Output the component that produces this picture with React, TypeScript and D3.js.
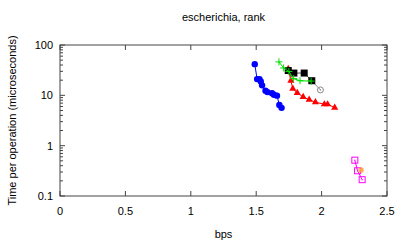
import React from "react";
import * as d3 from "d3";

const W = 407;
const H = 244;
const margin = { left: 60, right: 20, top: 45, bottom: 48 };

const xTicks = [0, 0.5, 1, 1.5, 2, 2.5];
const xTickLabels = ["0", "0.5", "1", "1.5", "2", "2.5"];
const yTicks = [0.1, 1, 10, 100];
const yTickLabels = ["0.1", "1", "10", "100"];

// [bps, time]
const blue = [
  [1.489, 41.6], [1.507, 21], [1.525, 21], [1.535, 18.9], [1.545, 15.8],
  [1.571, 12.4], [1.586, 11.6], [1.621, 11.0], [1.636, 10.3], [1.659, 9.86],
  [1.677, 6.45], [1.694, 5.64],
];
const red = [
  [1.745, 33.6], [1.765, 19.5], [1.78, 13.6], [1.814, 11.2], [1.859, 9.3],
  [1.905, 8.2], [1.953, 7.3], [2.021, 6.65], [2.046, 6.65], [2.1, 5.7],
];
const green = [
  [1.674, 46.2], [1.71, 35], [1.75, 29.7], [1.786, 21.5], [1.835, 19.5], [1.92, 19.2],
];
const black = [
  [1.745, 31.1], [1.788, 27.7], [1.867, 27.7], [1.925, 19.5],
];
const gray = [
  [1.925, 19.5], [1.991, 12.8],
];
const magenta = [
  [2.254, 0.515], [2.275, 0.317], [2.31, 0.211],
];
const orange = [
  [2.302, 0.327],
];

const FONT = "'Liberation Sans', Arial, sans-serif";
const AXIS = "#444";

export default function App() {
  const iw = W - margin.left - margin.right;
  const ih = H - margin.top - margin.bottom;
  const x = d3.scaleLinear().domain([0, 2.5]).range([0, iw]);
  const y = d3.scaleLog().domain([0.1, 100]).range([ih, 0]);
  const line = d3.line<number[]>().x(d => x(d[0])).y(d => y(d[1]));

  const minorY: number[] = [];
  [0.1, 1, 10].forEach(dec => {
    for (let k = 2; k <= 9; k++) minorY.push(dec * k);
  });

  const tri = d3.symbol(d3.symbolTriangle, 22)();

  return (
    <svg width={W} height={H} style={{ position: "absolute", left: 0, top: 0, background: "#fff" }}>
      <text x={margin.left + iw / 2} y={21} fontSize={11} fontFamily={FONT} textAnchor="middle">
        escherichia, rank
      </text>
      <text
        transform={`translate(16,${margin.top + ih / 2}) rotate(-90)`}
        fontSize={11}
        fontFamily={FONT}
        textAnchor="middle"
      >
        Time per operation (microseconds)
      </text>
      <text x={margin.left + iw / 2} y={238} fontSize={11} fontFamily={FONT} textAnchor="middle">
        bps
      </text>
      <g transform={`translate(${margin.left},${margin.top})`}>
        <rect x={0} y={0} width={iw} height={ih} fill="none" stroke={AXIS} strokeWidth={1} />
        {xTicks.map((t, i) => (
          <g key={`xt${i}`}>
            <line x1={x(t)} x2={x(t)} y1={ih} y2={ih - 5} stroke={AXIS} />
            <line x1={x(t)} x2={x(t)} y1={0} y2={5} stroke={AXIS} />
            <text x={x(t)} y={ih + 19} fontSize={11} fontFamily={FONT} textAnchor="middle">
              {xTickLabels[i]}
            </text>
          </g>
        ))}
        {yTicks.map((t, i) => (
          <g key={`yt${i}`}>
            <line x1={0} x2={5} y1={y(t)} y2={y(t)} stroke={AXIS} />
            <line x1={iw} x2={iw - 5} y1={y(t)} y2={y(t)} stroke={AXIS} />
            <text x={-7} y={y(t) + 4} fontSize={11} fontFamily={FONT} textAnchor="end">
              {yTickLabels[i]}
            </text>
          </g>
        ))}
        {minorY.map((t, i) => (
          <g key={`ym${i}`}>
            <line x1={0} x2={3} y1={y(t)} y2={y(t)} stroke={AXIS} />
            <line x1={iw} x2={iw - 3} y1={y(t)} y2={y(t)} stroke={AXIS} />
          </g>
        ))}

        {/* blue circles */}
        <path d={line(blue) || ""} fill="none" stroke="#0000ff" strokeWidth={1} />
        {blue.map((d, i) => (
          <circle key={`b${i}`} cx={x(d[0])} cy={y(d[1])} r={3.2} fill="#0000ff" />
        ))}

        {/* red triangles */}
        <path d={line(red) || ""} fill="none" stroke="#ff0000" strokeWidth={1} />
        {red.map((d, i) => (
          <path key={`r${i}`} d={tri || ""} transform={`translate(${x(d[0])},${y(d[1])})`} fill="#ff0000" />
        ))}

        {/* gray open circle with dot */}
        <path d={line(gray) || ""} fill="none" stroke="#888" strokeWidth={1} />
        {gray.map((d, i) => (
          <g key={`g${i}`}>
            <circle cx={x(d[0])} cy={y(d[1])} r={3} fill="none" stroke="#888" strokeWidth={1} />
            <circle cx={x(d[0])} cy={y(d[1])} r={0.7} fill="#888" />
          </g>
        ))}

        {/* black squares */}
        <path d={line(black) || ""} fill="none" stroke="#444" strokeWidth={1} />
        {black.map((d, i) => (
          <rect key={`k${i}`} x={x(d[0]) - 3.5} y={y(d[1]) - 3.5} width={7} height={7} fill="#000" />
        ))}

        {/* green plus */}
        <path d={line(green) || ""} fill="none" stroke="#00dd00" strokeWidth={1} />
        {green.map((d, i) => (
          <g key={`gr${i}`} stroke="#00dd00" strokeWidth={1}>
            <line x1={x(d[0]) - 3.5} x2={x(d[0]) + 3.5} y1={y(d[1])} y2={y(d[1])} />
            <line x1={x(d[0])} x2={x(d[0])} y1={y(d[1]) - 3.5} y2={y(d[1]) + 3.5} />
          </g>
        ))}

        {/* magenta open squares */}
        <path d={line(magenta) || ""} fill="none" stroke="#ff00ff" strokeWidth={1} />
        {magenta.map((d, i) => (
          <g key={`m${i}`}>
            <rect x={x(d[0]) - 3} y={y(d[1]) - 3} width={6} height={6} fill="none" stroke="#ff00ff" strokeWidth={1} />
            <circle cx={x(d[0])} cy={y(d[1])} r={0.6} fill="#ff00ff" />
          </g>
        ))}

        {/* orange star */}
        {orange.map((d, i) => (
          <g key={`o${i}`} stroke="#ffa040" strokeWidth={1.2}>
            <line x1={x(d[0]) - 3} x2={x(d[0]) + 3} y1={y(d[1])} y2={y(d[1])} />
            <line x1={x(d[0])} x2={x(d[0])} y1={y(d[1]) - 3} y2={y(d[1]) + 3} />
            <line x1={x(d[0]) - 2.2} x2={x(d[0]) + 2.2} y1={y(d[1]) - 2.2} y2={y(d[1]) + 2.2} />
            <line x1={x(d[0]) - 2.2} x2={x(d[0]) + 2.2} y1={y(d[1]) + 2.2} y2={y(d[1]) - 2.2} />
          </g>
        ))}
      </g>
    </svg>
  );
}
